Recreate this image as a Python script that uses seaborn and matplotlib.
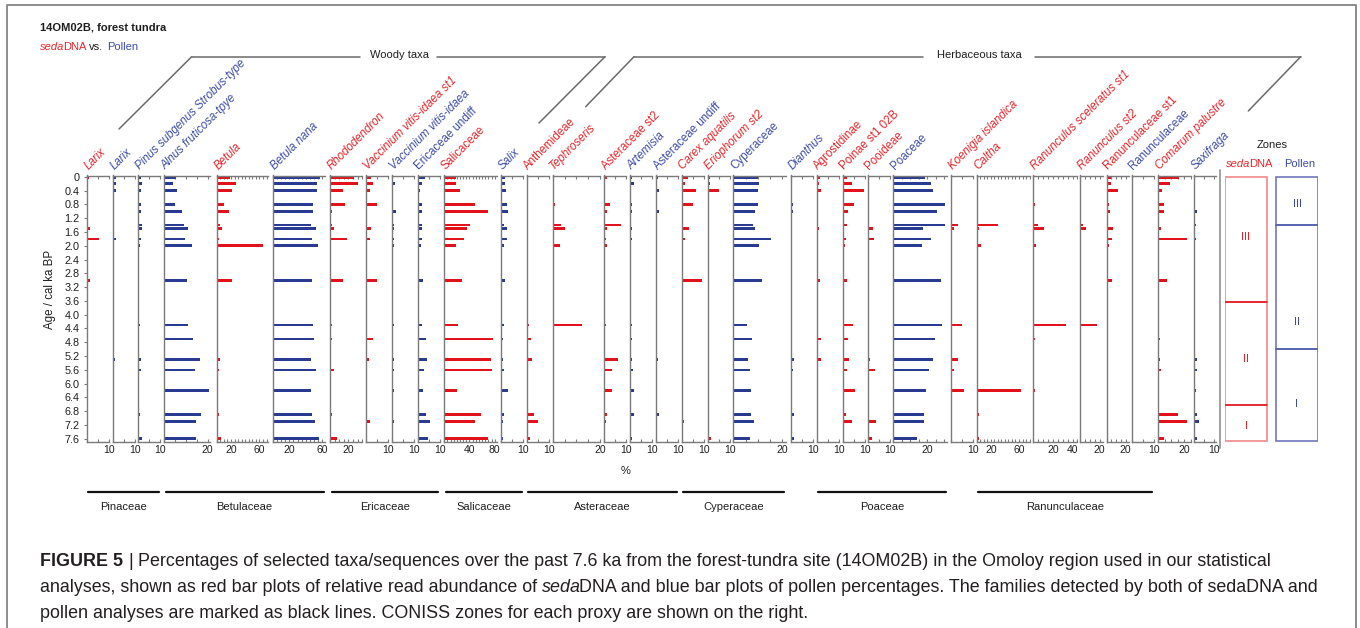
import numpy as np
import pandas as pd
import matplotlib
matplotlib.use("Agg")
import matplotlib.pyplot as plt
from matplotlib.lines import Line2D
from matplotlib.patches import Rectangle
import seaborn as sns

sns.set_style("ticks")
plt.rcParams["font.family"] = ["Liberation Sans", "DejaVu Sans"]

# ---------------------------------------------------------------- data
# sample ages (cal ka BP)
ages = [0.02, 0.2, 0.4, 0.8, 1.0, 1.4, 1.5, 1.8, 2.0, 3.0, 4.3, 4.7, 5.3, 5.6, 6.2, 6.9, 7.1, 7.6]

# percentages per taxon (sedaDNA read abundance / pollen percentages)
larix_dna = [0.9, 0.6, 0, 0.3, 0.45, 0, 1.7, 5.6, 0.3, 1.5, 0.75, 0.45, 0, 0.45, 0, 0.6, 0.6, 0.45]
larix_pollen = [1.7, 1.7, 1.4, 0.5, 0.8, 0.5, 0.8, 1.4, 0.3, 0, 0.8, 0.8, 1.2, 0.5, 0.8, 0.6, 0.8, 0.6]
pinus_pollen = [1.4, 1.5, 1.4, 1.4, 1.4, 1.7, 1.5, 1.4, 0.6, 0, 0.6, 0.5, 1.1, 1.1, 0.5, 0.9, 0, 1.8]
alnus_pollen = [5.6, 3.8, 5.9, 5.0, 8.3, 8.9, 11.1, 9.7, 12.9, 10.6, 11.1, 13.2, 16.5, 14.1, 20.5, 17.1, 14.8, 14.7]
betula_dna = [18.8, 26.8, 22.0, 9.9, 16.9, 4.7, 7.0, 3.3, 64.8, 21.1, 0, 1.9, 5.2, 2.8, 0, 2.8, 0, 5.6]
betula_nana_pollen = [57.6, 54.7, 54.7, 49.4, 48.6, 46.1, 52.3, 47.3, 55.6, 47.7, 49.4, 50.2, 46.1, 52.3, 46.1, 47.7, 51.4, 56.0]
rhododendron_dna = [26.4, 30.0, 13.8, 16.7, 1.8, 1.8, 4.0, 18.8, 0, 13.8, 1.8, 1.8, 0, 4.0, 0, 1.8, 0, 7.2]
vaccinium_dna = [2.3, 3.0, 1.8, 5.0, 0.3, 0, 2.3, 1.8, 0, 5.0, 0.3, 3.2, 1.3, 0.5, 0.5, 0.3, 1.8, 0.5]
vaccinium_pollen = [0.3, 1.2, 0, 0, 1.5, 0.7, 0.8, 0.7, 0.8, 0, 0.7, 0.3, 0.7, 0.7, 0.7, 0.5, 0.7, 0.3]
ericaceae_pollen = [3.2, 2.0, 1.0, 1.8, 1.8, 2.0, 1.8, 1.8, 1.7, 2.5, 2.0, 3.8, 4.3, 2.8, 2.2, 3.8, 5.7, 4.8]
salicaceae_dna = [18.0, 18.0, 24.9, 48.1, 69.3, 40.7, 36.0, 31.7, 18.5, 28.0, 21.7, 77.2, 74.1, 76.2, 20.1, 58.2, 48.1, 69.3]
salix_pollen = [2.0, 1.8, 2.3, 2.5, 3.3, 1.5, 2.5, 2.5, 1.3, 1.8, 1.5, 0.8, 0.8, 1.5, 3.0, 1.3, 0.8, 0.7]
anthemideae_dna = [0, 0, 0, 0, 0, 0.3, 0, 0, 0, 0, 1.0, 1.8, 2.3, 0.3, 0, 3.5, 5.0, 1.7]
tephroseris_dna = [0, 0, 0, 1.0, 0.4, 3.5, 5.2, 0, 3.1, 0, 12.4, 0.3, 0, 0, 0.3, 0, 0, 0]
asteraceae_dna = [1.3, 0, 0, 2.6, 1.2, 7.8, 1.2, 0.8, 1.2, 0, 0.7, 0.5, 6.2, 3.7, 3.4, 1.3, 0.7, 0.5]
artemisia_pollen = [0.7, 1.7, 0.3, 1.0, 1.0, 0.3, 1.0, 1.0, 0.3, 0.2, 0.7, 0.7, 1.0, 1.2, 1.7, 1.7, 0.5, 1.0]
asteraceae_pollen = [0.7, 0, 1.3, 0, 1.3, 0.5, 0.5, 0, 0, 0.3, 0, 0.5, 0.8, 0.5, 0, 1.2, 0.5, 0.5]
carex_dna = [3.0, 1.3, 6.5, 5.3, 0.5, 0.8, 3.5, 1.5, 0, 9.3, 0, 0, 0, 0, 0, 0.5, 1.0, 0]
eriophorum_dna = [1.0, 1.0, 5.0, 0, 0, 0, 0.8, 0, 0, 0.8, 0, 0, 0, 0, 0, 0, 0, 1.3]
cyperaceae_pollen = [10.1, 10.5, 10.1, 10.1, 8.8, 8.1, 9.0, 15.5, 10.5, 11.6, 5.5, 7.7, 6.0, 6.8, 7.4, 7.3, 8.5, 6.8]
dianthus_pollen = [0, 0.3, 0.3, 1.0, 0.7, 0.3, 0.3, 0, 0.3, 0.3, 0.3, 0.3, 1.2, 0.7, 0.3, 1.2, 0.3, 1.2]
agrostidinae_dna = [1.5, 1.0, 2.0, 0, 0.8, 0.3, 1.0, 0.5, 0, 1.5, 0.5, 1.8, 1.8, 0.8, 0, 0, 0, 0]
poinae_dna = [2.0, 4.2, 9.7, 5.3, 2.3, 2.0, 0.5, 1.3, 1.0, 2.0, 4.8, 2.3, 3.0, 2.0, 5.8, 1.3, 4.0, 0.5]
pooideae_dna = [0.7, 0.7, 0.8, 0, 0, 0, 2.2, 2.7, 0.5, 0.8, 0.8, 0.7, 1.2, 3.2, 0.3, 0.8, 3.8, 1.8]
poaceae_pollen = [18.7, 22.1, 23.5, 30.8, 26.0, 30.4, 17.6, 22.5, 17.2, 28.2, 28.8, 24.5, 23.5, 21.3, 19.3, 18.1, 18.1, 14.0]
koenigia_dna = [0, 0, 0, 0, 0.5, 3.3, 1.3, 0, 0.3, 0, 4.8, 0, 3.3, 1.3, 5.8, 0, 0, 0]
caltha_dna = [0, 0, 2.4, 0.9, 0, 29.7, 2.8, 1.9, 5.7, 0, 1.4, 1.4, 0.5, 1.9, 63.2, 2.8, 1.9, 3.8]
ran_sceleratus_dna = [0, 0, 0, 1.7, 0, 4.4, 10.5, 0, 2.7, 0, 33.3, 1.7, 1.0, 1.0, 2.0, 0, 1.0, 0]
ran_st2_dna = [0, 0, 0, 0.7, 0, 2.7, 5.8, 0, 1.4, 0, 17.7, 0.7, 0, 0, 0.7, 0, 0.7, 0]
ranunculaceae_dna = [4.6, 4.2, 11.6, 2.1, 3.9, 1.0, 7.0, 5.6, 2.1, 5.6, 1.0, 1.4, 0, 0, 0.7, 0, 0, 0.7]
ranunculaceae_pollen = [0.3, 0, 0, 0.3, 0, 0.3, 0.5, 0.5, 0, 0.3, 0, 0, 0.8, 0, 0.5, 0.8, 0, 0.3]
comarum_dna = [15.9, 9.0, 2.6, 4.6, 4.4, 0.8, 1.8, 21.8, 0.8, 6.7, 0, 1.0, 1.3, 1.8, 0.8, 15.1, 22.3, 4.1]
saxifraga_pollen = [0.7, 0.5, 0.5, 0.7, 1.7, 1.2, 0.7, 1.2, 0.3, 0.2, 0.3, 0.3, 1.7, 1.3, 1.0, 1.7, 2.3, 1.7]

# CONISS zone boundaries (cal ka BP) and names, top to bottom
dna_zone_edges = [0, 3.62, 6.61, 7.66]
pollen_zone_edges = [0, 1.41, 5.0, 7.66]
zone_names = ["III", "II", "I"]

# family groups: (name, first panel, last panel)
families = [("Pinaceae", 0, 2), ("Betulaceae", 3, 5), ("Ericaceae", 6, 9),
            ("Salicaceae", 10, 11), ("Asteraceae", 12, 16), ("Cyperaceae", 17, 19),
            ("Poaceae", 21, 24), ("Ranunculaceae", 26, 30)]

# panels: (label, series, proxy, italic label)
panels = [
    ("Larix", larix_dna, "dna", True),
    ("Larix", larix_pollen, "pollen", True),
    ("Pinus subgenus Strobus-type", pinus_pollen, "pollen", True),
    ("Alnus fruticosa-tpye", alnus_pollen, "pollen", True),
    ("Betula", betula_dna, "dna", True),
    ("Betula nana", betula_nana_pollen, "pollen", True),
    ("Rhododendron", rhododendron_dna, "dna", True),
    ("Vaccinium vitis-idaea st1", vaccinium_dna, "dna", True),
    ("Vaccinium vitis-idaea", vaccinium_pollen, "pollen", True),
    ("Ericaceae undiff", ericaceae_pollen, "pollen", False),
    ("Salicaceae", salicaceae_dna, "dna", False),
    ("Salix", salix_pollen, "pollen", True),
    ("Anthemideae", anthemideae_dna, "dna", False),
    ("Tephroseris", tephroseris_dna, "dna", True),
    ("Asteraceae st2", asteraceae_dna, "dna", False),
    ("Artemisia", artemisia_pollen, "pollen", True),
    ("Asteraceae undiff", asteraceae_pollen, "pollen", False),
    ("Carex aquatilis", carex_dna, "dna", True),
    ("Eriophorum st2", eriophorum_dna, "dna", True),
    ("Cyperaceae", cyperaceae_pollen, "pollen", False),
    ("Dianthus", dianthus_pollen, "pollen", True),
    ("Agrostidinae", agrostidinae_dna, "dna", False),
    ("Poinae st1 02B", poinae_dna, "dna", False),
    ("Pooideae", pooideae_dna, "dna", False),
    ("Poaceae", poaceae_pollen, "pollen", False),
    ("Koenigia islandica", koenigia_dna, "dna", True),
    ("Caltha", caltha_dna, "dna", True),
    ("Ranunculus sceleratus st1", ran_sceleratus_dna, "dna", True),
    ("Ranunculus st2", ran_st2_dna, "dna", True),
    ("Ranunculaceae st1", ranunculaceae_dna, "dna", False),
    ("Ranunculaceae", ranunculaceae_pollen, "pollen", False),
    ("Comarum palustre", comarum_dna, "dna", True),
    ("Saxifraga", saxifraga_pollen, "pollen", True),
]

# ---------------------------------------------------------------- layout
# per panel: left px, right px, x-axis maximum, labelled ticks
layout = [
    (86.7, 108.7, 10, (10,)), (112.7, 134.7, 10, (10,)), (138.3, 160.3, 10, (10,)),
    (164.3, 209.9, 21, (20,)), (216.7, 268.0, 72, (20, 60)), (273.3, 325.0, 64, (20, 60)),
    (330.0, 362.2, 35, (20,)), (366.0, 388.0, 10, (10,)), (392.3, 414.3, 10, (10,)),
    (417.7, 439.7, 10, (10,)), (444.3, 497.2, 84, (40, 80)), (501.0, 523.0, 10, (10,)),
    (526.7, 548.7, 10, (10,)), (552.7, 600.1, 20, (20,)), (604.3, 626.3, 10, (10,)),
    (630.0, 652.0, 10, (10,)), (656.0, 678.0, 10, (10,)), (681.7, 703.7, 10, (10,)),
    (707.7, 729.7, 10, (10,)), (733.3, 785.8, 21.5, (20,)), (791.0, 813.0, 10, (10,)),
    (816.7, 838.7, 10, (10,)), (842.7, 864.7, 10, (10,)), (867.7, 889.7, 10, (10,)),
    (893.3, 947.4, 32, (20,)), (951.0, 973.0, 10, (10,)), (976.7, 1030.3, 76, (20, 60)),
    (1033.3, 1077.4, 45, (20, 40)), (1080.0, 1102.5, 23, (20,)), (1106.7, 1128.6, 23, (20,)),
    (1131.7, 1153.7, 10, (10,)), (1158.3, 1190.8, 25, (20,)), (1194.0, 1216.0, 11, (10,)),
]

W, H = 1360, 628
TOP, BOT = 175.5, 441.5
YLIM = (7.68, -0.04)

RED = "#e3121a"
BLUE = "#283a92"
RED_TXT = "#e5252a"
BLUE_TXT = "#3c4ca6"
AXIS_GREY = "#7a7a7a"
LINE_GREY = "#6a6a6a"
INK = "#1e1e1e"


def fx(p):
    return p / W


def fy(p):
    return 1 - p / H


fig = plt.figure(figsize=(W / 100, H / 100), dpi=100)
fig.patch.set_facecolor("white")

for i, ((label, vals, proxy, ital), (left, right, xmax, lab_ticks)) in enumerate(zip(panels, layout)):
    ax = fig.add_axes([fx(left), fy(BOT), (right - left) / W, (BOT - TOP) / H])
    df = pd.DataFrame({"age": ages, "pct": vals})
    col = RED if proxy == "dna" else BLUE
    sns.barplot(data=df, x="pct", y="age", orient="y", native_scale=True,
                color=col, saturation=1, width=0.75, errorbar=None,
                linewidth=0, ax=ax)
    ax.set_xlim(0, xmax)
    ax.set_ylim(*YLIM)
    ax.set_xlabel("")
    ax.set_ylabel("")
    ax.set_facecolor("none")
    for s in ("left", "top", "bottom"):
        ax.spines[s].set_color(AXIS_GREY)
        ax.spines[s].set_linewidth(1.0)
    ax.spines["right"].set_visible(False)

    ticks = np.arange(0, xmax + 1e-6, 5)
    ax.set_xticks(ticks)
    ax.set_xticklabels([f"{t:g}" if t in lab_ticks else "" for t in ticks])
    ax.tick_params(axis="x", direction="in", top=True, bottom=True,
                   length=2.0 if xmax > 30 else 2.4, width=0.8, color=AXIS_GREY,
                   labelsize=7.5, pad=2.2, labelcolor=INK)

    if i == 0:
        yt = np.arange(0, 7.61, 0.4)
        ax.set_yticks(yt)
        ax.set_yticklabels(["0" if v == 0 else f"{v:.1f}" for v in yt])
        ax.tick_params(axis="y", direction="out", length=2.5, width=0.8,
                       color=AXIS_GREY, labelsize=7.8, pad=2.5, labelcolor=INK)
    else:
        ax.set_yticks([])

    fig.text(fx(left + 1.5), fy(169.5), label, rotation=45, rotation_mode="anchor",
             ha="left", va="baseline", fontsize=8.3,
             color=RED_TXT if proxy == "dna" else BLUE_TXT,
             fontstyle="italic" if ital else "normal")

# y-axis title and x-axis unit
fig.text(fx(50), fy(289), "Age / cal ka BP", rotation=90, ha="center", va="center",
         fontsize=8.3, color=INK)
fig.text(fx(626), fy(471), "%", ha="center", va="center", fontsize=8, color=INK)

# closing vertical rule after the last panel
fig.add_artist(Line2D([fx(1220), fx(1220)], [fy(170), fy(448)], transform=fig.transFigure,
                      color="#9a9a9a", lw=1.3))

# ---------------------------------------------------------------- zones
zx0 = 1225
zax = fig.add_axes([fx(zx0), fy(BOT), (1318 - zx0) / W, (BOT - TOP) / H])
zax.set_xlim(0, 1318 - zx0)
zax.set_ylim(*YLIM)
zax.axis("off")
zone_cols = [
    (0, 42, dna_zone_edges, "#ef8a8a", RED, RED_TXT, [1.75, 5.29, 7.23]),
    (51, 42, pollen_zone_edges, "#6f78bb", "#5560b0", BLUE_TXT, [0.79, 4.2, 6.6]),
]
for x0, w, edges, box_col, div_col, txt_col, label_ages in zone_cols:
    for k, name in enumerate(zone_names):
        y0, y1 = edges[k], edges[k + 1]
        zax.add_patch(Rectangle((x0, y0), w, y1 - y0, facecolor="none",
                                edgecolor=box_col, lw=1.2))
        zax.text(x0 + w / 2, label_ages[k], name, ha="center", va="center",
                 fontsize=8, color=txt_col)
    for e in edges[1:-1]:
        zax.plot([x0, x0 + w], [e, e], color=div_col, lw=1.1)


# ---------------------------------------------------------------- inline text helper
renderer = fig.canvas.get_renderer()


def text_width(s, **kw):
    t = fig.text(0, 0, s, **kw)
    w = t.get_window_extent(renderer).width
    t.remove()
    return w


def inline(x, y, parts, **common):
    sp = text_width("n n", **common) - text_width("nn", **common)
    for s, kw in parts:
        lead = len(s) - len(s.lstrip(" "))
        trail = len(s) - len(s.rstrip(" "))
        x += lead * sp
        t = fig.text(fx(x), fy(y), s.strip(" "), ha="left", va="baseline",
                     **{**common, **kw})
        x += t.get_window_extent(renderer).width + trail * sp
        if kw.get("fontstyle") == "italic":
            x -= 0.12 * sp * 4
    return x


# titles
fig.text(fx(40), fy(30.5), "14OM02B, forest tundra", ha="left", va="baseline",
         fontsize=8, fontweight="bold", color=INK)
inline(40, 49.8, [("seda", dict(color=RED_TXT, fontstyle="italic")),
                  ("DNA", dict(color=RED_TXT)),
                  (" vs. ", dict(color=INK)),
                  ("Pollen", dict(color=BLUE_TXT))], fontsize=8)

fig.text(fx(1272), fy(147.5), "Zones", ha="center", va="baseline", fontsize=8, color=INK)
inline(1226, 167, [("seda", dict(color=RED_TXT, fontstyle="italic")),
                   ("DNA", dict(color=RED_TXT))], fontsize=8)
inline(1284, 167, [("Pollen", dict(color=BLUE_TXT))], fontsize=8)

# group headers
def seg(x1, y1, x2, y2):
    fig.add_artist(Line2D([fx(x1), fx(x2)], [fy(y1), fy(y2)], transform=fig.transFigure,
                          color=LINE_GREY, lw=1.1))


seg(119, 129, 191.7, 56.7)
seg(191.7, 56.7, 360, 56.7)
seg(437, 56.7, 605, 56.7)
seg(605, 56.7, 539, 123)
fig.text(fx(400), fy(55.5), "Woody taxa", ha="center", va="center", fontsize=8, color=INK)

seg(585.7, 106.7, 634, 56.7)
seg(634, 56.7, 923, 56.7)
seg(1035, 56.7, 1300.7, 56.7)
seg(1300.7, 56.7, 1248.3, 111)
fig.text(fx(979), fy(55.5), "Herbaceous taxa", ha="center", va="center", fontsize=8, color=INK)

# family bars
for name, a, b in families:
    xl = layout[a][0] + 1.5
    xr = layout[b][1] - 1.5
    fig.add_artist(Line2D([fx(xl), fx(xr)], [fy(492), fy(492)], transform=fig.transFigure,
                          color="#111111", lw=1.6))
    fig.text(fx((xl + xr) / 2), fy(507), name, ha="center", va="center",
             fontsize=8, color=INK)

# outer frame
fig.add_artist(Line2D([fx(7), fx(7), fx(1356), fx(1356)], [fy(640), fy(5), fy(5), fy(640)],
                      transform=fig.transFigure, color="#8c8c8c", lw=1.4))

# ---------------------------------------------------------------- caption
cap_family = ["Liberation Sans Narrow", "Liberation Sans"]
line2_plain = ("analyses, shown as red bar plots of relative read abundance of sedaDNA and blue bar "
               "plots of pollen percentages. The families detected by both of sedaDNA and")
w10 = text_width(line2_plain, fontsize=10, family=cap_family)
cap_size = 10 * (1322 - 40) / w10
cap = dict(fontsize=cap_size, family=cap_family, color="#231f20")

inline(40, 566, [("FIGURE 5", dict(fontweight="bold")),
                 (" | ", {}),
                 ("Percentages of selected taxa/sequences over the past 7.6 ka from the forest-tundra "
                  "site (14OM02B) in the Omoloy region used in our statistical", {})], **cap)
inline(40, 592, [("analyses, shown as red bar plots of relative read abundance of ", {}),
                 ("seda", dict(fontstyle="italic")),
                 ("DNA and blue bar plots of pollen percentages. The families detected by both "
                  "of sedaDNA and", {})], **cap)
inline(40, 618, [("pollen analyses are marked as black lines. CONISS zones for each proxy are "
                  "shown on the right.", {})], **cap)

fig.savefig("out.png", dpi=100, facecolor="white")
